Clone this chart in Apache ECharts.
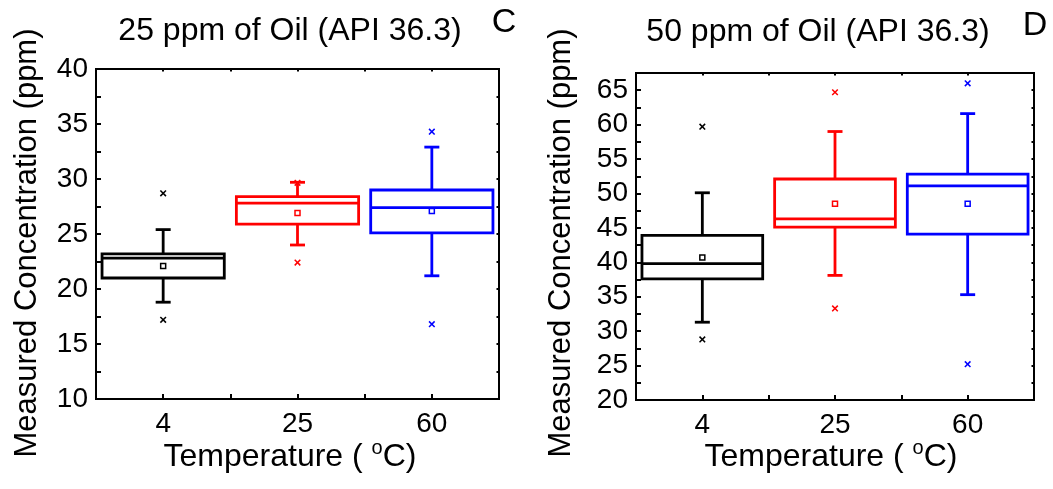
<!DOCTYPE html>
<html>
<head>
<meta charset="utf-8">
<script src="https://cdn.jsdelivr.net/npm/echarts@6/dist/echarts.min.js"></script>
<style>
    html, body { margin: 0; padding: 0; background: #fff; }
    #main { width: 1053px; height: 489px; }
</style>
</head>
<body>
<div id="main"></div>
<script>
var categories = ['4', '25', '60'];
var boxColors = ['#000000', '#ff0000', '#0000ff'];

// panel C : 25 ppm of oil
var cWhiskerLow = [18.8, 24.0, 21.2];
var cQ1 = [21.0, 25.9, 25.1];
var cMedian = [22.8, 27.8, 27.4];
var cQ3 = [23.2, 28.4, 29.0];
var cWhiskerHigh = [25.4, 29.7, 32.9];
var cMean = [22.1, 26.9, 27.1];
var cOutlierLow = [17.2, 22.4, 16.8];
var cOutlierHigh = [28.7, 29.65, 34.3];

// panel D : 50 ppm of oil
var dWhiskerLow = [31.3, 38.1, 35.3];
var dQ1 = [37.6, 45.1, 44.1];
var dMedian = [39.8, 46.3, 51.1];
var dQ3 = [43.9, 52.1, 52.8];
var dWhiskerHigh = [50.1, 59.0, 61.6];
var dMean = [40.7, 48.5, 48.5];
var dOutlierLow = [28.8, 33.3, 25.2];
var dOutlierHigh = [59.7, 64.7, 66.0];

var FONT = '"Liberation Sans", Arial, sans-serif';

function buildRows(lo, q1, med, q3, hi, mean, olo, ohi) {
    var rows = [];
    for (var i = 0; i < categories.length; i++) {
        rows.push([i, lo[i], q1[i], med[i], q3[i], hi[i], mean[i], olo[i], ohi[i]]);
    }
    return rows;
}

function renderBox(params, api) {
    var i = api.value(0);
    var color = boxColors[i];
    var y = function (dim) { return api.coord([i, api.value(dim)])[1]; };
    var cx = api.coord([i, 0])[0];
    var lo = y(1), q1 = y(2), med = y(3), q3 = y(4), hi = y(5), mean = y(6);
    var half = api.size([0.91, 0])[0] / 2;
    var cap = 7.5;
    var thick = function () { return { stroke: color, lineWidth: 2.8, fill: null }; };
    var thin = function () { return { stroke: color, lineWidth: 1.5, fill: null }; };
    var seg = function (x1, y1, x2, y2, st) {
        return { type: 'line', shape: { x1: x1, y1: y1, x2: x2, y2: y2 }, style: st };
    };
    // outlier "x" marks
    var cross = function (yy) {
        return [seg(cx - 2.8, yy - 2.8, cx + 2.8, yy + 2.8, thin()),
                seg(cx - 2.8, yy + 2.8, cx + 2.8, yy - 2.8, thin())];
    };
    var children = [
        { type: 'rect', shape: { x: cx - half, y: q3, width: 2 * half, height: q1 - q3 }, style: thick() },
        seg(cx - half, med, cx + half, med, thick()),
        seg(cx, q3, cx, hi, thick()),
        seg(cx, q1, cx, lo, thick()),
        seg(cx - cap, hi, cx + cap, hi, thick()),
        seg(cx - cap, lo, cx + cap, lo, thick()),
        { type: 'rect', shape: { x: cx - 2.5, y: mean - 2.5, width: 5, height: 5 }, style: thin() }
    ];
    children = children.concat(cross(y(7)), cross(y(8)));
    return { type: 'group', children: children };
}

function fiveOnly(v) {
    return Math.abs(v / 5 - Math.round(v / 5)) < 1e-6 ? String(v) : '';
}

function catLabel(v) {
    return Math.abs(v - Math.round(v)) < 1e-6 ? categories[Math.round(v)] : '';
}

function xAxisFor(g, top) {
    return {
        gridIndex: g, type: 'value', min: -0.5, max: 2.5, interval: 0.5,
        position: top ? 'top' : 'bottom',
        axisLine: { show: false, onZero: false },
        splitLine: { show: false },
        axisTick: { inside: true, length: top ? 2.5 : 5, lineStyle: { color: '#000', width: 2 } },
        axisLabel: top ? { show: false } : {
            color: '#000', fontSize: 28, fontFamily: FONT, margin: 11, formatter: catLabel
        }
    };
}

function yAxisFor(g, right, min, max) {
    return {
        gridIndex: g, type: 'value', min: min, max: max, interval: 5,
        position: right ? 'right' : 'left',
        axisLine: { show: false, onZero: false },
        splitLine: { show: false },
        axisTick: { inside: true, length: right ? 2.5 : 5, lineStyle: { color: '#000', width: 2 } },
        minorTick: { show: true, splitNumber: 2, length: right ? 2.5 : 5, lineStyle: { color: '#000', width: 2 } },
        minorSplitLine: { show: false },
        axisLabel: right ? { show: false } : {
            color: '#000', fontSize: 28, fontFamily: FONT, margin: 8, formatter: fiveOnly
        }
    };
}

function txt(x, y, text, size, rot) {
    return {
        type: 'text', x: x, y: y, rotation: rot || 0,
        style: { text: text, fill: '#000', font: size + 'px ' + FONT, align: 'center', verticalAlign: 'middle' }
    };
}

function xTitle(x, y) {
    return {
        type: 'text', x: x, y: y,
        style: {
            text: '{a|Temperature ( }{s|o}{a|C)}',
            align: 'center', verticalAlign: 'middle',
            rich: {
                a: { fontSize: 32, fontFamily: FONT, fill: '#000' },
                s: { fontSize: 20, fontFamily: FONT, fill: '#000', padding: [0, 0, 17, 0] }
            }
        }
    };
}

var chart = echarts.init(document.getElementById('main'));
chart.setOption({
    animation: false,
    backgroundColor: '#fff',
    grid: [
        { left: 96, right: 554, top: 69, bottom: 90, show: true, borderColor: '#000', borderWidth: 2 },
        { left: 636, right: 19, top: 73, bottom: 89, show: true, borderColor: '#000', borderWidth: 2 }
    ],
    xAxis: [xAxisFor(0, false), xAxisFor(0, true), xAxisFor(1, false), xAxisFor(1, true)],
    yAxis: [yAxisFor(0, false, 10, 40), yAxisFor(0, true, 10, 40),
            yAxisFor(1, false, 20, 67.5), yAxisFor(1, true, 20, 67.5)],
    series: [
        {
            type: 'custom', xAxisIndex: 0, yAxisIndex: 0,
            renderItem: renderBox,
            encode: { x: 0, y: [1, 2, 3, 4, 5, 6, 7, 8] },
            data: buildRows(cWhiskerLow, cQ1, cMedian, cQ3, cWhiskerHigh, cMean, cOutlierLow, cOutlierHigh)
        },
        {
            type: 'custom', xAxisIndex: 2, yAxisIndex: 2,
            renderItem: renderBox,
            encode: { x: 0, y: [1, 2, 3, 4, 5, 6, 7, 8] },
            data: buildRows(dWhiskerLow, dQ1, dMedian, dQ3, dWhiskerHigh, dMean, dOutlierLow, dOutlierHigh)
        }
    ],
    graphic: [
        txt(290, 31, '25 ppm of Oil (API 36.3)', 32),
        txt(504, 23, 'C', 34),
        txt(818, 32, '50 ppm of Oil (API 36.3)', 32),
        txt(1035, 26, 'D', 34),
        txt(27, 243, 'Measured Concentration (ppm)', 31, Math.PI / 2),
        txt(561, 243, 'Measured Concentration (ppm)', 31, Math.PI / 2),
        xTitle(290, 457),
        xTitle(831, 457)
    ]
});
</script>
</body>
</html>
